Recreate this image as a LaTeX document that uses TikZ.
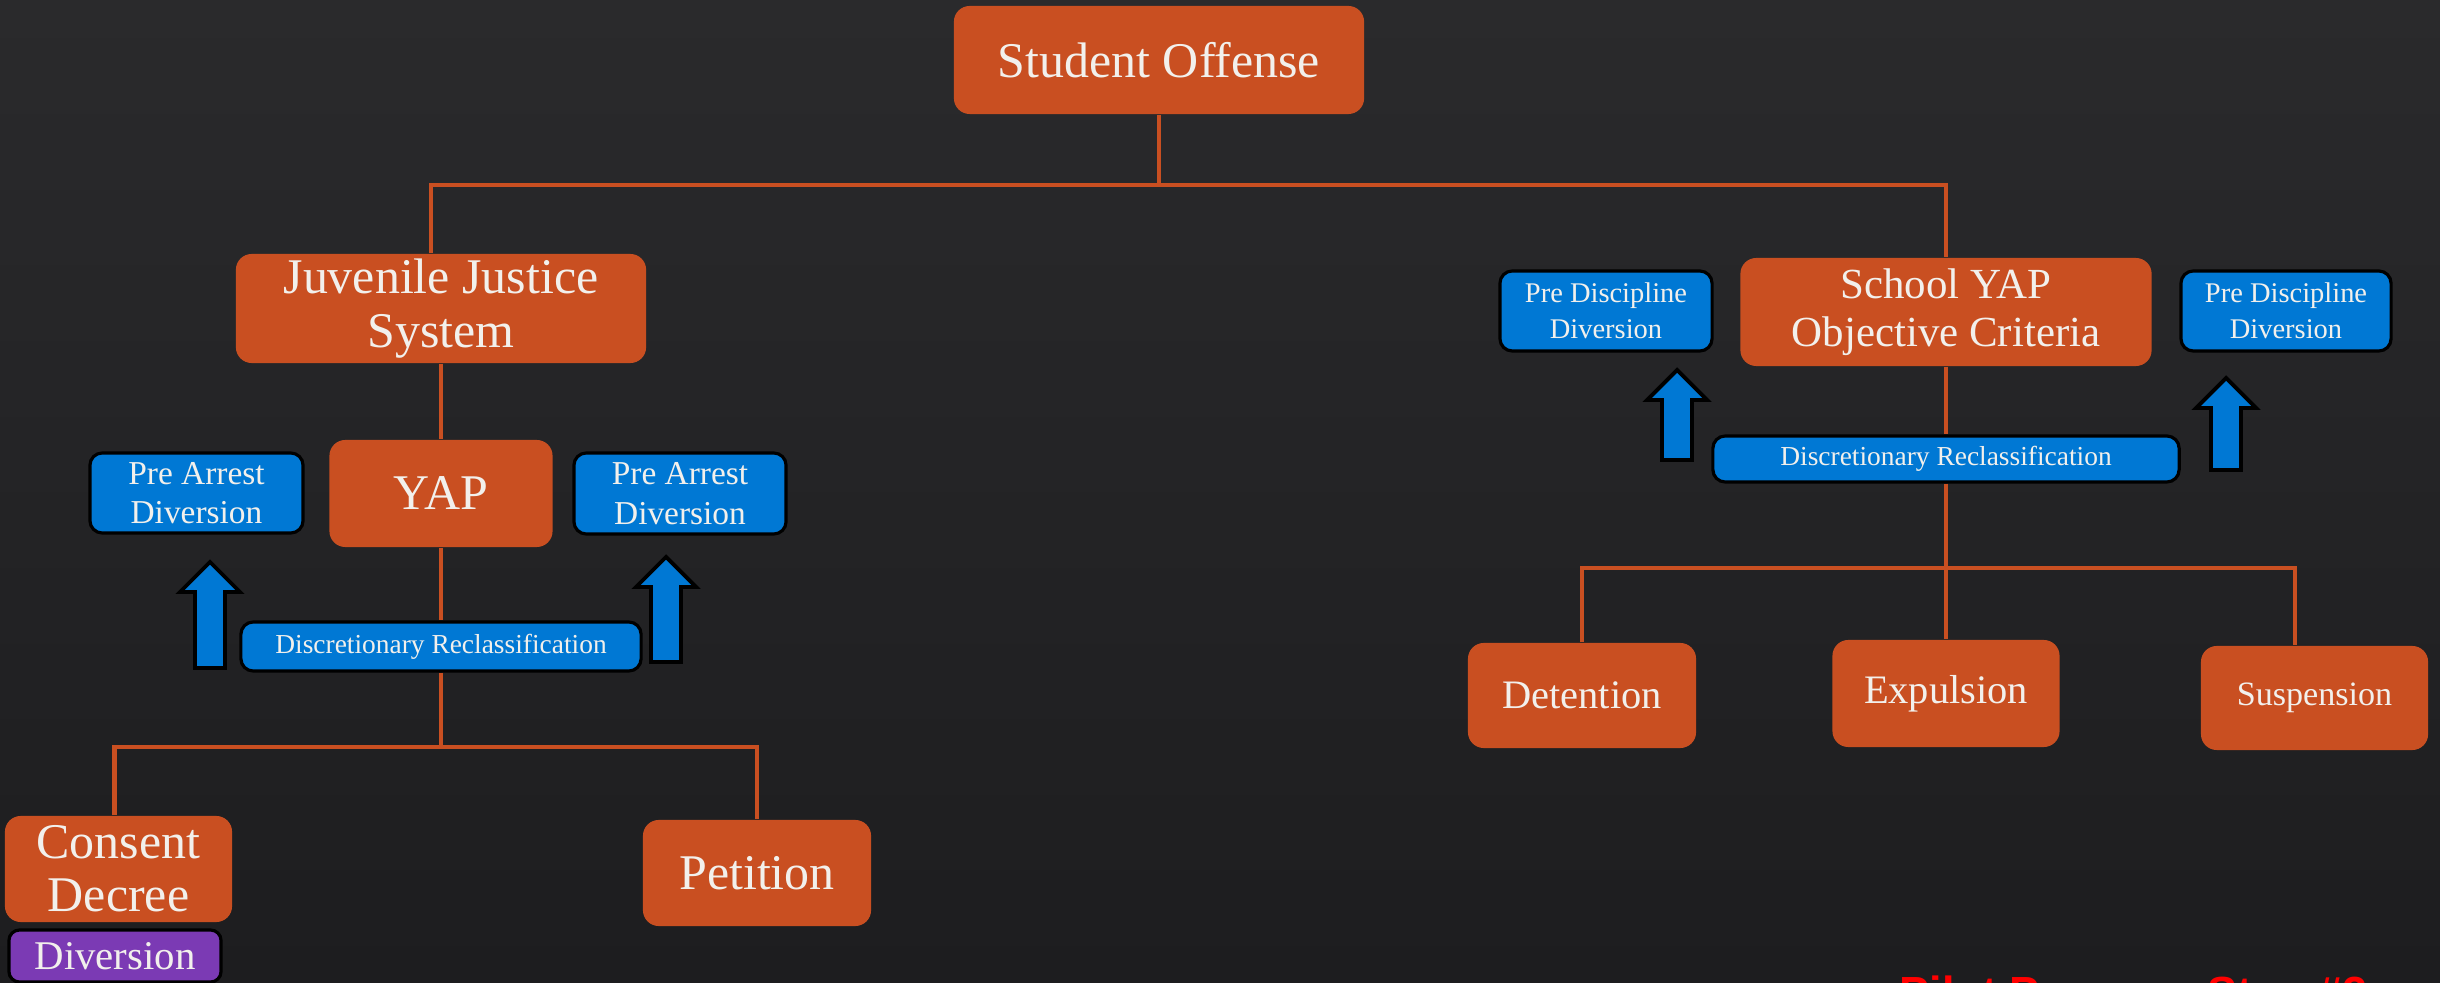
\documentclass[tikz,border=0pt]{standalone}
\usepackage{fontspec}
\setmainfont{Liberation Serif}
\newfontfamily\redfont{Liberation Sans}
\usetikzlibrary{calc}
\definecolor{bgtop}{RGB}{42,42,44}
\definecolor{bgbot}{RGB}{29,29,31}
\definecolor{orng}{RGB}{201,79,33}
\definecolor{bluebox}{RGB}{0,120,212}
\definecolor{purp}{RGB}{123,58,180}
\definecolor{txt}{RGB}{242,240,236}
\tikzset{
 obox/.style={fill=orng, rounded corners=4.5pt, text=txt, align=center, inner sep=0pt},
 bbox/.style={fill=bluebox, draw=black, line width=0.9pt, rounded corners=3.5pt, text=txt, align=center, inner sep=0pt},
 conn/.style={draw=orng, line width=1.15pt},
 barrow/.style={fill=bluebox, draw=black, line width=1.1pt, line join=miter},
 bigf/.style={font=\fontsize{14.2}{15.4}\selectfont},
}
\newcommand\blockup[3]{%
 \path[barrow] (#1-15,#2) -- (#1+15,#2) -- (#1+15,#3+30) -- (#1+30,#3+30) -- (#1,#3) -- (#1-30,#3+30) -- (#1-15,#3+30) -- cycle;}
\begin{document}
\begin{tikzpicture}[x=0.01cm,y=-0.01cm]
\shade[top color=bgtop,bottom color=bgbot] (0,0) rectangle (2440,983);
\useasboundingbox (0,0) rectangle (2440,983);
\begin{scope}
\clip (0,0) rectangle (2440,983);
% left branch
\node[obox, bigf, minimum width=4.10cm, minimum height=1.08cm] (so) at (1159,60) {Student Offense};
\node[obox, bigf, minimum width=4.10cm, minimum height=1.09cm] (jjs) at (441,308.5) {Juvenile Justice\\System};
\node[obox, bigf, minimum width=2.23cm, minimum height=1.07cm] (yap) at (441,493.5) {YAP};
\node[bbox, font=\fontsize{9.5}{11.2}\selectfont, minimum width=2.13cm, minimum height=0.80cm] (padl) at (196.5,493) {Pre Arrest\\Diversion};
\node[bbox, font=\fontsize{9.5}{11.2}\selectfont, minimum width=2.12cm, minimum height=0.81cm] (padr) at (680,493.5) {Pre Arrest\\Diversion};
\node[bbox, font=\fontsize{7.8}{9}\selectfont, minimum width=4.00cm, minimum height=0.49cm] (drl) at (441,646.5) {Discretionary Reclassification};
\node[obox, font=\fontsize{14.2}{15}\selectfont, minimum width=2.27cm, minimum height=1.06cm] (cd) at (118.5,869) {Consent\\Decree};
\node[obox, bigf, minimum width=2.28cm, minimum height=1.06cm] (pet) at (757,873) {Petition};
\node[fill=purp, draw=black, line width=0.9pt, rounded corners=3pt, text=txt, inner sep=0pt, font=\fontsize{11.6}{13}\selectfont, minimum width=2.12cm, minimum height=0.52cm] (div) at (115,956) {Diversion};
% right branch
\node[obox, font=\fontsize{12.2}{13.7}\selectfont, minimum width=4.11cm, minimum height=1.08cm] (sy) at (1946,312) {School YAP\\Objective Criteria};
\node[bbox, font=\fontsize{8.1}{10.2}\selectfont, minimum width=2.12cm, minimum height=0.80cm] (pddl) at (1606,311) {Pre Discipline\\Diversion};
\node[bbox, font=\fontsize{8.1}{10.2}\selectfont, minimum width=2.10cm, minimum height=0.80cm] (pddr) at (2286,311) {Pre Discipline\\Diversion};
\node[bbox, font=\fontsize{7.8}{9}\selectfont, minimum width=4.66cm, minimum height=0.46cm] (drr) at (1946,459) {Discretionary Reclassification};
\node[obox, font=\fontsize{11.5}{13}\selectfont, minimum width=2.28cm, minimum height=1.05cm] (det) at (1582,695.5) {Detention};
\node[obox, font=\fontsize{11.5}{13}\selectfont, minimum width=2.27cm, minimum height=1.07cm] (exp) at (1946,693.5) {Expulsion};
\node[obox, font=\fontsize{9.7}{11}\selectfont, minimum width=2.27cm, minimum height=1.04cm] (sus) at (2314.5,698) {Suspension};
% connectors
\coordinate (hubA) at (1159,185);
\draw[conn] (so.south) -- (hubA);
\draw[conn] ($(jjs.north)+(-10,0)$) |- (hubA) -| (sy.north);
\draw[conn] (jjs.south) -- (yap.north);
\draw[conn] (yap.south) -- (drl.north);
\coordinate (hubB) at (441,747);
\draw[conn] (drl.south) -- (hubB);
\draw[conn] ($(cd.north)+(-4,0)$) |- (hubB) -| (pet.north);
\draw[conn] (sy.south) -- (drr.north);
\coordinate (hubC) at (1946,568);
\draw[conn] (drr.south) -- (hubC);
\draw[conn] (det.north) |- (hubC) -| (exp.north);
\draw[conn] (hubC) -| ($(sus.north)+(-20,0)$);
% block arrows
\blockup{210}{668}{562}
\blockup{666}{662}{557}
\blockup{1677}{460}{370}
\blockup{2226}{470}{378}
% footer text, cut by the lower edge as in the reference
\node[anchor=base west, inner sep=0pt, text=red, font=\redfont\bfseries\fontsize{12.8}{14}\selectfont] (pilot) at (1899,1008) {Pilot Program Step \#2};
\end{scope}
\end{tikzpicture}
\end{document}
